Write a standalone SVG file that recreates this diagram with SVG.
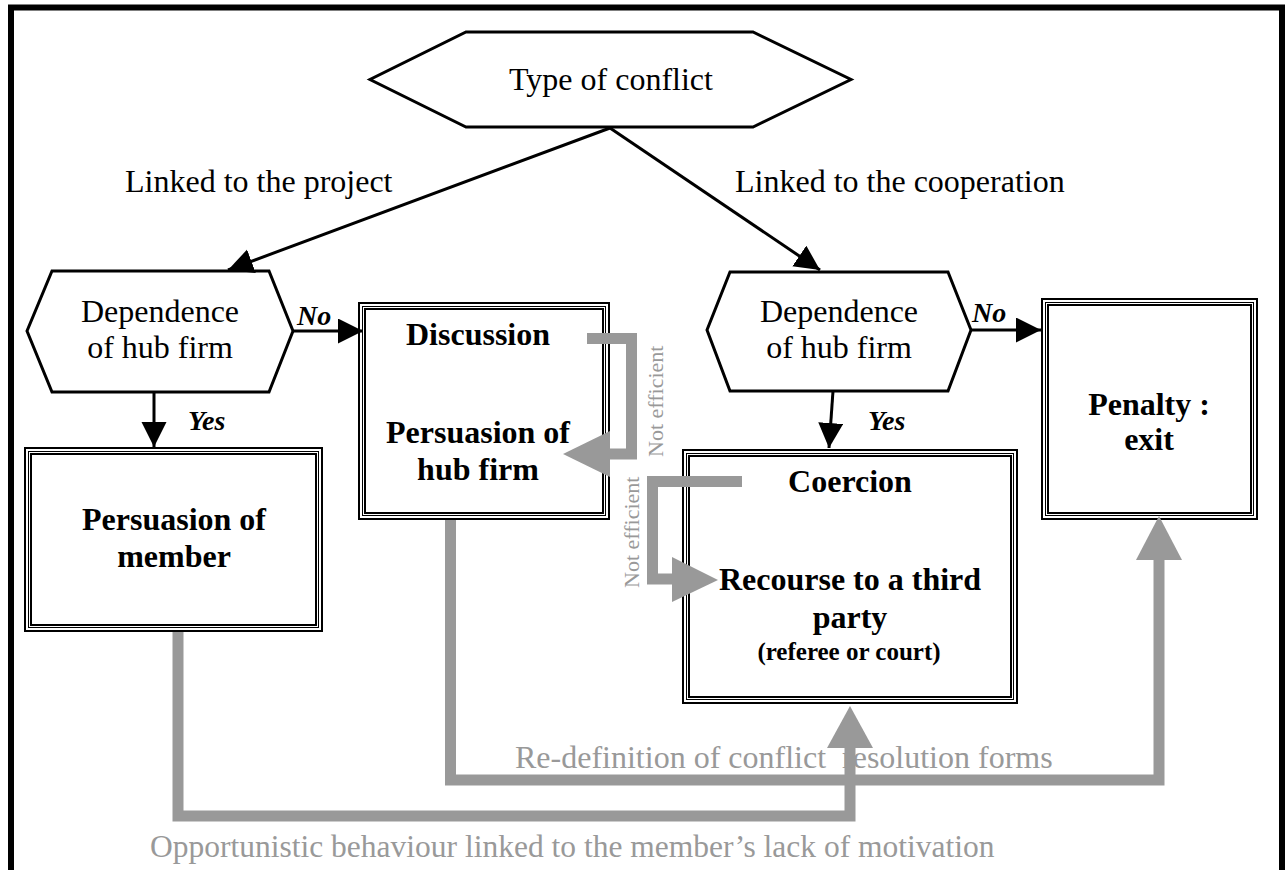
<svg xmlns="http://www.w3.org/2000/svg" width="1285" height="870" viewBox="0 0 1285 870">
<style>
text{font-family:"Liberation Serif","Times New Roman",serif;fill:#000}
.t{font-size:32px}
.b{font-size:32px;font-weight:bold}
.bi{font-size:28px;font-weight:bold;font-style:italic}
.g{fill:#999999}
.hex{fill:#fff;stroke:#000;stroke-width:3}
.o{fill:none;stroke:#000;stroke-width:2}
.m{fill:none;stroke:#000;stroke-width:1}
.i{fill:#fff;stroke:#000;stroke-width:2}
.k{fill:none;stroke:#000;stroke-width:3}
.gl{fill:none;stroke:#999999;stroke-width:11;stroke-linejoin:miter}
.ga{fill:#999999;stroke:none}
</style>
<defs>
<marker id="ah" markerUnits="userSpaceOnUse" markerWidth="26" markerHeight="26" refX="25" refY="12.5" orient="auto">
<path d="M0,0 L25,12.5 L0,25 z" fill="#000"/>
</marker>
</defs>
<rect x="0" y="0" width="1285" height="870" fill="#fff"/>
<rect id="frame" x="11" y="7.5" width="1271" height="900" fill="none" stroke="#000" stroke-width="6"/>

<g id="type-of-conflict">
<polygon class="hex" points="466,32 753,32 851,79.5 753,127 466,127 370,79.5"/>
<text class="t" x="611" y="90" text-anchor="middle">Type of conflict</text>
</g>

<g id="dependence-left">
<polygon class="hex" points="52,271 269,271 293,331 269,392 52,392 27,331"/>
<text class="t" x="160" y="322" text-anchor="middle">Dependence</text>
<text class="t" x="160" y="358" text-anchor="middle">of hub firm</text>
</g>

<g id="dependence-right">
<polygon class="hex" points="730,272 948,272 971,330 948,391 730,391 707,330"/>
<text class="t" x="839" y="322" text-anchor="middle">Dependence</text>
<text class="t" x="839" y="358" text-anchor="middle">of hub firm</text>
</g>

<g id="persuasion-member">
<rect class="i" x="25" y="448" width="297" height="183"/>
<rect class="m" x="28.5" y="451.5" width="290" height="176"/>
<rect class="o" x="31" y="454" width="285" height="171"/>
<text class="b" x="174" y="530" text-anchor="middle">Persuasion of</text>
<text class="b" x="174" y="567" text-anchor="middle">member</text>
</g>

<g id="discussion">
<rect class="i" x="359" y="303" width="250" height="216"/>
<rect class="m" x="362.5" y="306.5" width="243" height="209"/>
<rect class="o" x="365" y="309" width="238" height="204"/>
<text class="b" x="478" y="345" text-anchor="middle">Discussion</text>
<text class="b" x="478" y="443" text-anchor="middle">Persuasion of</text>
<text class="b" x="478" y="480" text-anchor="middle">hub firm</text>
</g>

<g id="coercion">
<rect class="i" x="683" y="450" width="334" height="253"/>
<rect class="m" x="686.5" y="453.5" width="327" height="246"/>
<rect class="o" x="689" y="456" width="322" height="241"/>
<text class="b" x="850" y="492" text-anchor="middle">Coercion</text>
<text class="b" x="850" y="590" text-anchor="middle">Recourse to a third</text>
<text class="b" x="850" y="628" text-anchor="middle">party</text>
<text x="849" y="660" text-anchor="middle" style="font-size:25px;font-weight:bold">(referee or court)</text>
</g>

<g id="penalty">
<rect class="i" x="1042" y="299" width="215" height="220"/>
<rect class="m" x="1045.5" y="302.5" width="208" height="213"/>
<rect class="o" x="1048" y="305" width="203" height="208"/>
<text class="b" x="1149" y="415" text-anchor="middle">Penalty :</text>
<text class="b" x="1149" y="450" text-anchor="middle">exit</text>
</g>

<g id="connectors">
<line class="k" x1="610" y1="128" x2="228" y2="270" marker-end="url(#ah)"/>
<line class="k" x1="610" y1="128" x2="820" y2="270" marker-end="url(#ah)"/>
<line class="k" x1="293" y1="331" x2="363" y2="331" marker-end="url(#ah)"/>
<line class="k" x1="154" y1="392" x2="154" y2="447" marker-end="url(#ah)"/>
<line class="k" x1="833" y1="391" x2="829" y2="448" marker-end="url(#ah)"/>
<line class="k" x1="971" y1="330" x2="1041" y2="330" marker-end="url(#ah)"/>

<path class="gl" d="M587,338.5 H631.5 V454 H608"/>
<polygon class="ga" points="610,431 610,477 563,454"/>

<path class="gl" d="M742,481.5 H652.5 V579 H674"/>
<polygon class="ga" points="672,557 672,602 718,580"/>

<path class="gl" d="M450.5,520 V780 H1159 V558"/>
<polygon class="ga" points="1136,560 1182,560 1159,516"/>

<path class="gl" d="M178,632 V816 H850 V746"/>
<polygon class="ga" points="827,748 873,748 850,706"/>

<text class="t" x="125" y="192">Linked to the project</text>
<text class="t" x="735" y="192">Linked to the cooperation</text>
<text class="bi" x="297" y="325">No</text>
<text class="bi" x="188" y="430">Yes</text>
<text class="bi" x="972" y="322">No</text>
<text class="bi" x="868" y="430">Yes</text>
<text class="g" transform="translate(663,457) rotate(-90)" style="font-size:22px">Not efficient</text>
<text class="g" transform="translate(639,588) rotate(-90)" style="font-size:22px">Not efficient</text>
<text class="g t" x="515" y="768" xml:space="preserve">Re-definition of conflict  resolution forms</text>
<text class="g" x="150" y="857" style="font-size:31.5px">Opportunistic behaviour linked to the member’s lack of motivation</text>
</g>
</svg>
